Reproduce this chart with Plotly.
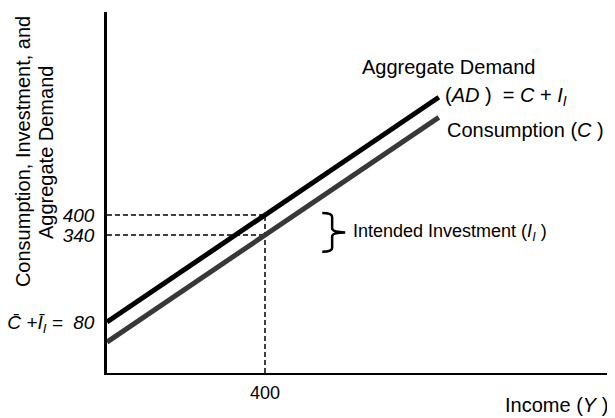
import plotly.graph_objects as go

# Keynesian cross: aggregate demand and consumption vs income
income = [0, 400, 840]
aggregate_demand = [80, 400, 752]
consumption = [20, 340, 692]

y_tickvals = [80, 340, 400]
y_ticktext = ['<i>C\u0304 +I\u0304<sub>I</sub> =  80</i>', '<i>340</i>', '<i>400</i>']
x_tickvals = [400]
x_ticktext = ['400']

eq_income = 400
eq_demand = 400
eq_consumption = 340

x_range = [0, 1281]
y_range = [-72.5, 1007]

font = 'Liberation Sans, Arial, sans-serif'

fig = go.Figure()

# guide lines
fig.add_trace(go.Scatter(x=[x_range[0], eq_income], y=[eq_demand, eq_demand],
                         mode='lines', line={'color': 'black', 'width': 1.5, 'dash': '5px,3px'},
                         showlegend=False, hoverinfo='skip'))
fig.add_trace(go.Scatter(x=[x_range[0], eq_income], y=[eq_consumption, eq_consumption],
                         mode='lines', line={'color': 'black', 'width': 1.5, 'dash': '5px,3px'},
                         showlegend=False, hoverinfo='skip'))
fig.add_trace(go.Scatter(x=[eq_income, eq_income], y=[y_range[0], eq_demand],
                         mode='lines', line={'color': 'black', 'width': 1.5, 'dash': '5px,3px'},
                         showlegend=False, hoverinfo='skip'))

fig.add_trace(go.Scatter(x=income, y=consumption, mode='lines',
                         line={'color': '#383838', 'width': 5},
                         showlegend=False, hoverinfo='skip'))
fig.add_trace(go.Scatter(x=income, y=aggregate_demand, mode='lines',
                         line={'color': 'black', 'width': 5},
                         showlegend=False, hoverinfo='skip'))

# curly brace for intended investment
bx0, bx1, bxm = 545, 570, 603
top, bot = 406, 290
mid = (top + bot) / 2
brace = (f'M {bx0},{top} Q {bx1},{top} {bx1},{top-12} L {bx1},{mid+12} '
         f'Q {bx1},{mid} {bxm},{mid} Q {bx1},{mid} {bx1},{mid-12} '
         f'L {bx1},{bot+12} Q {bx1},{bot} {bx0},{bot}')
fig.add_shape(type='path', path=brace, xref='x', yref='y',
              line={'color': 'black', 'width': 2.5})

# page body has an 8px margin, so the figure is shrunk by that much
fig.update_layout(
    width=607, height=410,
    margin={'l': 99, 'r': 2, 't': 4, 'b': 45, 'autoexpand': False},
    plot_bgcolor='white', paper_bgcolor='white',
    font={'family': font, 'color': 'black', 'size': 20},
    xaxis={'range': x_range, 'showgrid': False, 'zeroline': False,
           'showline': True, 'linecolor': 'black', 'linewidth': 2,
           'tickvals': x_tickvals, 'ticktext': x_ticktext, 'ticks': '',
           'tickfont': {'size': 18}, 'ticklabelstandoff': 2,
           'automargin': False, 'fixedrange': True},
    yaxis={'range': y_range, 'showgrid': False, 'zeroline': False,
           'showline': True, 'linecolor': 'black', 'linewidth': 2.5,
           'tickvals': y_tickvals, 'ticktext': y_ticktext, 'ticks': '',
           'tickfont': {'size': 19}, 'ticklabelstandoff': 6,
           'automargin': False, 'fixedrange': True},
)

labels = [
    ('Aggregate Demand', 0.5, 0.848, 'left', 20),
    ('(<i>AD</i> )  = <i>C</i> + <i>I<sub>I</sub></i>', 0.665, 0.767, 'left', 20),
    ('Consumption (<i>C</i> )', 0.668, 0.673, 'left', 20),
    ('Intended Investment (<i>I<sub>I</sub></i> )', 0.482, 0.388, 'left', 18),
    ('Income (<i>Y</i> )', 0.994, -0.089, 'right', 20),
]
for text, x, y, anchor, size in labels:
    fig.add_annotation(text=text, x=x, y=y, xref='paper', yref='paper',
                       xanchor=anchor, yanchor='middle', showarrow=False,
                       font={'size': size})

# two-line axis title, set as two rotated lines for tighter spacing
for text, x in [('Consumption, Investment, and', -0.166),
                ('Aggregate Demand', -0.1206)]:
    fig.add_annotation(text=text, x=x, y=0.612, xref='paper', yref='paper',
                       xanchor='center', yanchor='middle', textangle=-90,
                       showarrow=False, font={'size': 20})

fig.write_html('out.html')
